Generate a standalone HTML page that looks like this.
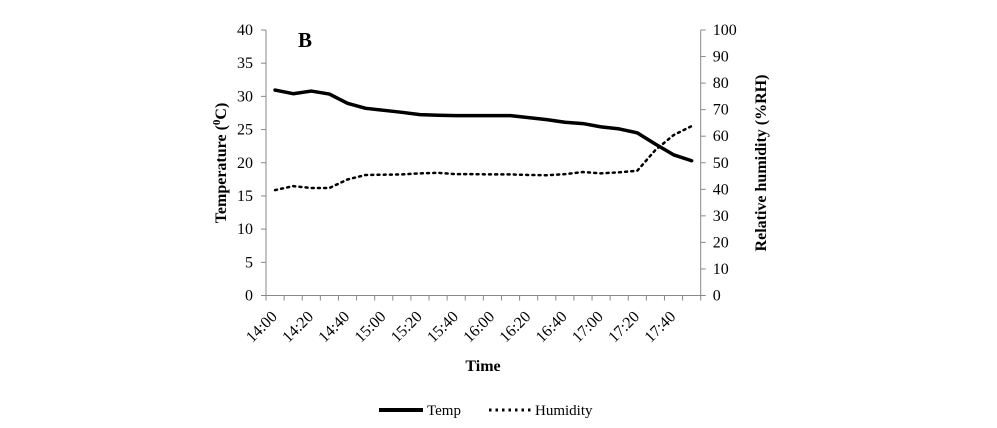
<!DOCTYPE html>
<html><head><meta charset="utf-8"><style>
body{margin:0;background:#fff;}
svg text{font-family:"Liberation Serif",serif;fill:#000;}
</style></head><body>
<svg id="chart" width="997" height="423" viewBox="0 0 997 423" xmlns="http://www.w3.org/2000/svg">
<text x="298" y="47" font-size="21" font-weight="bold">B</text>
<g id="axes"></g>
<g id="series"></g>
<text x="483" y="371" font-size="16" font-weight="bold" text-anchor="middle">Time</text>
<text transform="translate(226,163) rotate(-90)" font-size="16" font-weight="bold" text-anchor="middle">Temperature (<tspan font-size="11" dy="-6">0</tspan><tspan dy="6">C)</tspan></text>
<text transform="translate(766,163) rotate(-90)" font-size="16" font-weight="bold" text-anchor="middle">Relative humidity (%RH)</text>
<g>
<line x1="379" y1="410" x2="423" y2="410" stroke="#000" stroke-width="4"/>
<text x="427" y="415" font-size="15">Temp</text>
<line x1="489" y1="410" x2="531" y2="410" stroke="#000" stroke-width="3" stroke-dasharray="2.5 4"/>
<text x="535" y="415" font-size="15">Humidity</text>
</g>
</svg>
<script>
const categories=["14:00","14:10","14:20","14:30","14:40","14:50","15:00","15:10","15:20","15:30","15:40","15:50","16:00","16:10","16:20","16:30","16:40","16:50","17:00","17:10","17:20","17:30","17:40","17:50"];
const tempValues=[30.95,30.4,30.8,30.35,28.95,28.2,27.9,27.6,27.25,27.15,27.1,27.1,27.1,27.1,26.8,26.5,26.1,25.9,25.4,25.1,24.5,22.8,21.2,20.3];
const humidityValues=[39.7,41.2,40.5,40.5,43.7,45.4,45.5,45.6,46,46.2,45.7,45.7,45.6,45.6,45.4,45.3,45.7,46.5,46,46.4,47,54.8,60.4,63.8];
const leftTicks=[0,5,10,15,20,25,30,35,40];
const rightTicks=[0,10,20,30,40,50,60,70,80,90,100];
const NS="http://www.w3.org/2000/svg";
const X0=266,X1=700.7,Y0=295.5,Y1=30;
const step=(X1-X0)/categories.length;
function xPos(i){return X0+step*(i+0.5);}
function yLeft(v){return Y0-(v/40)*(Y0-Y1);}
function yRight(v){return Y0-(v/100)*(Y0-Y1);}
function mk(tag,attrs,parent){const e=document.createElementNS(NS,tag);for(const k in attrs)e.setAttribute(k,attrs[k]);parent.appendChild(e);return e;}
const axes=document.getElementById('axes');
const series=document.getElementById('series');
const ax="#888";
let l=mk('line',{x1:X0,y1:Y1,x2:X0,y2:Y0,stroke:ax,'stroke-width':1},axes);


l=mk('line',{x1:X1,y1:Y1,x2:X1,y2:Y0,stroke:ax,'stroke-width':1},axes);


l=mk('line',{x1:X0,y1:Y0,x2:X1,y2:Y0,stroke:ax,'stroke-width':1},axes);


leftTicks.forEach(v=>{const y=yLeft(v);
 mk('line',{x1:X0-5,y1:y,x2:X0,y2:y,stroke:ax},axes);
 const t=mk('text',{x:X0-13,y:y+5,'font-size':16,'text-anchor':'end'},axes);t.textContent=v;
 
 });
rightTicks.forEach(v=>{const y=yRight(v);
 mk('line',{x1:X1,y1:y,x2:X1+5,y2:y,stroke:ax},axes);
 const t=mk('text',{x:X1+12,y:y+5,'font-size':16},axes);t.textContent=v;
 
 });
for(let i=0;i<=categories.length;i++){const x=X0+step*i;mk('line',{x1:x,y1:Y0,x2:x,y2:Y0+5,stroke:ax},axes);}
categories.forEach((c,i)=>{if(i%2)return;const x=X0+step*i;
 const t=mk('text',{transform:`translate(${x+12},${Y0+22}) rotate(-45)`,'font-size':16,'text-anchor':'end'},axes);t.textContent=c;
 
 });
let p=mk('polyline',{points:tempValues.map((v,i)=>xPos(i)+','+yLeft(v)).join(' '),fill:'none',stroke:'#000','stroke-width':3.5,'stroke-linejoin':'round','stroke-linecap':'round'},series);


p=mk('polyline',{points:humidityValues.map((v,i)=>xPos(i)+','+yRight(v)).join(' '),fill:'none',stroke:'#000','stroke-width':2.5,'stroke-dasharray':'2 4.2','stroke-linecap':'round'},series);


</script>
</body></html>
